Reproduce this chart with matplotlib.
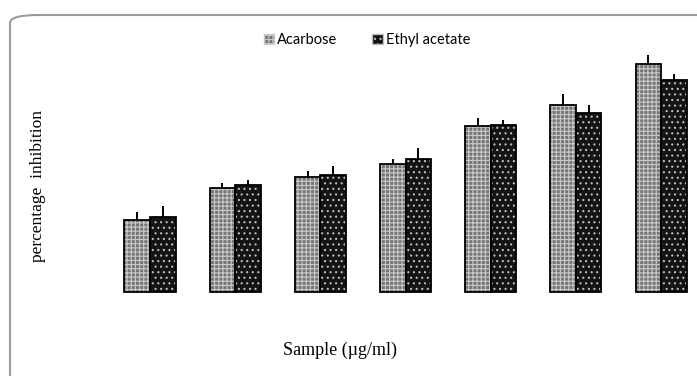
import numpy as np
import matplotlib
matplotlib.use("Agg")
import matplotlib.pyplot as plt
from matplotlib.patches import FancyBboxPatch, Patch

# concentrations are not labelled in the original, only 7 groups
groups = ["1", "2", "3", "4", "5", "6", "7"]
acarbose = [25.2, 36.5, 40.3, 44.9, 58.2, 65.5, 79.8]
acarbose_err = [2.8, 1.8, 2.0, 1.8, 2.8, 3.9, 3.2]
ethyl = [26.3, 37.3, 40.8, 46.4, 58.5, 62.5, 74.2]
ethyl_err = [3.9, 1.9, 3.3, 4.1, 1.8, 2.8, 2.1]

plt.rcParams['hatch.linewidth'] = 0.8

fig = plt.figure(figsize=(6.97, 3.76), dpi=100)
ax = fig.add_axes([0, 0, 1, 1])

x = np.arange(len(groups))
w = 0.3

# fill + hatch, then black outline on top
ax.bar(x - w/2, acarbose, w, color="#767676", edgecolor="#c9c9c9", hatch="++++", linewidth=0)
ax.bar(x + w/2, ethyl, w, color="#141414", edgecolor="#bdbdbd", hatch="...", linewidth=0)
ax.bar(x - w/2, acarbose, w, fill=False, edgecolor="black", linewidth=1.3)
ax.bar(x + w/2, ethyl, w, fill=False, edgecolor="black", linewidth=1.3)

ax.errorbar(x - w/2, acarbose, yerr=[np.zeros(len(x)), acarbose_err], fmt="none",
            ecolor="black", elinewidth=1.4, capsize=0)
ax.errorbar(x + w/2, ethyl, yerr=[np.zeros(len(x)), ethyl_err], fmt="none",
            ecolor="black", elinewidth=1.4, capsize=0)

ax.set_xlim(-1.761, 6.422)
ax.set_ylim(-29.4, 102.2)
ax.axis("off")

# rounded frame, only the top-left corner is visible
frame = FancyBboxPatch((10/697, -0.2), 1.2, 1.2 - 15/376,
                       boxstyle="round,pad=0,rounding_size=0.04",
                       transform=fig.transFigure, fill=False,
                       edgecolor="#9a9a9a", linewidth=1.5, mutation_aspect=376/697)
fig.patches.append(frame)

handles = [Patch(facecolor="#767676", edgecolor="#c9c9c9", hatch="++++", label="Acarbose"),
           Patch(facecolor="#141414", edgecolor="#bdbdbd", hatch="...", label="Ethyl acetate")]
fig.legend(handles=handles, loc="center", bbox_to_anchor=(367/697, 1 - 40/376), ncol=2,
           frameon=False, prop={"family": "Lato", "size": 10.5},
           handlelength=0.7, handleheight=0.7, handletextpad=0.2, columnspacing=2.4)

fig.text(38/697, 1 - 186/376, "percentage  inhibition", rotation=90, ha="center", va="center",
         family="Liberation Serif", fontsize=12.5)
fig.text(340/697, 1 - 350/376, "Sample (\u00b5g/ml)", ha="center", va="center",
         family="Liberation Serif", fontsize=13)

fig.savefig("out.png", dpi=100)
